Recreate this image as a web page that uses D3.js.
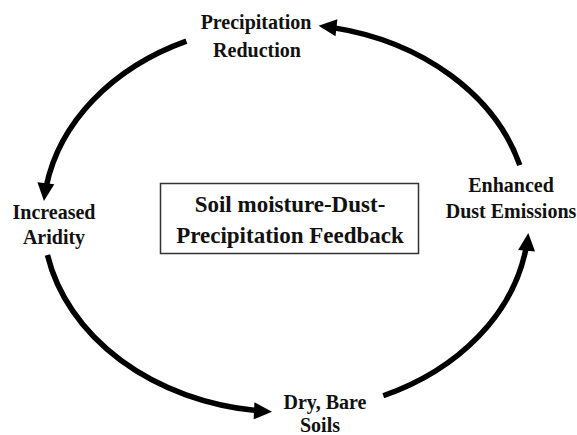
<!DOCTYPE html>
<html>
<head>
<meta charset="utf-8">
<script src="https://cdn.jsdelivr.net/npm/d3@7"></script>
<style>
  body { margin: 0; background: #fff; }
  text { font-family: "Liberation Serif", "Times New Roman", serif; font-weight: bold; fill: #111; }
</style>
</head>
<body>
<div id="chart"></div>
<script>
// stages of the feedback loop, in cycle order
const stages = [
  ["Precipitation", "Reduction"],
  ["Increased", "Aridity"],
  ["Dry, Bare", "Soils"],
  ["Enhanced", "Dust Emissions"]
];
const title = ["Soil moisture-Dust-", "Precipitation Feedback"];
// arrows: from stage index -> to stage index
const links = [[0, 1], [1, 2], [2, 3], [3, 0]];

const width = 577, height = 435;
const svg = d3.select("#chart").append("svg")
  .attr("width", width).attr("height", height);

// ellipse the loop runs around
const cx = 286, cy = 218, rx = 243, ry = 194;
const rad = Math.PI / 180;
const pt = (t) => [cx + rx * Math.cos(t * rad), cy + ry * Math.sin(t * rad)];

// layout: label anchor per stage (line centers) and arrow angles per link
const labelPos = [
  [[256, 29], [257, 57]],
  [[54, 219], [54, 244]],
  [[325, 409], [320, 432]],
  [[511, 192], [511, 218]]
];
const arrowAngles = [
  [245.8, 185.0],
  [169, 93.3],
  [66.4, 4.4],
  [344.2, 277.7]
];

const headLen = 18, headW = 17;

links.forEach((l, i) => {
  const [t0, t1] = arrowAngles[i];
  const tip = pt(t1);
  // travel direction at the end (angles decrease)
  let dx = rx * Math.sin(t1 * rad), dy = -ry * Math.cos(t1 * rad);
  const sp = Math.hypot(dx, dy);
  dx /= sp; dy /= sp;
  const dt = (headLen / sp) / rad;
  const p0 = pt(t0), p1 = pt(t1 + dt * 0.8);

  svg.append("path")
    .attr("d", `M${p0[0]},${p0[1]} A${rx},${ry} 0 0 0 ${p1[0]},${p1[1]}`)
    .attr("fill", "none")
    .attr("stroke", "#000")
    .attr("stroke-width", 5.5);

  const bx = tip[0] - dx * headLen, by = tip[1] - dy * headLen;
  const nx = -dy, ny = dx;
  svg.append("path")
    .attr("d", d3.line()([
      tip,
      [bx + nx * headW / 2, by + ny * headW / 2],
      [bx - nx * headW / 2, by - ny * headW / 2]
    ]) + "Z")
    .attr("fill", "#000");
});

stages.forEach((s, i) => {
  s.forEach((line, j) => {
    svg.append("text")
      .attr("x", labelPos[i][j][0])
      .attr("y", labelPos[i][j][1])
      .attr("text-anchor", "middle")
      .attr("font-size", 20)
      .text(line);
  });
});

// center box
svg.append("rect")
  .attr("x", 160.5).attr("y", 183.5)
  .attr("width", 258).attr("height", 70)
  .attr("fill", "none")
  .attr("stroke", "#333")
  .attr("stroke-width", 1.5);

title.forEach((line, j) => {
  svg.append("text")
    .attr("x", 290)
    .attr("y", 212 + j * 31)
    .attr("text-anchor", "middle")
    .attr("font-size", 23)
    .text(line);
});
</script>
</body>
</html>
